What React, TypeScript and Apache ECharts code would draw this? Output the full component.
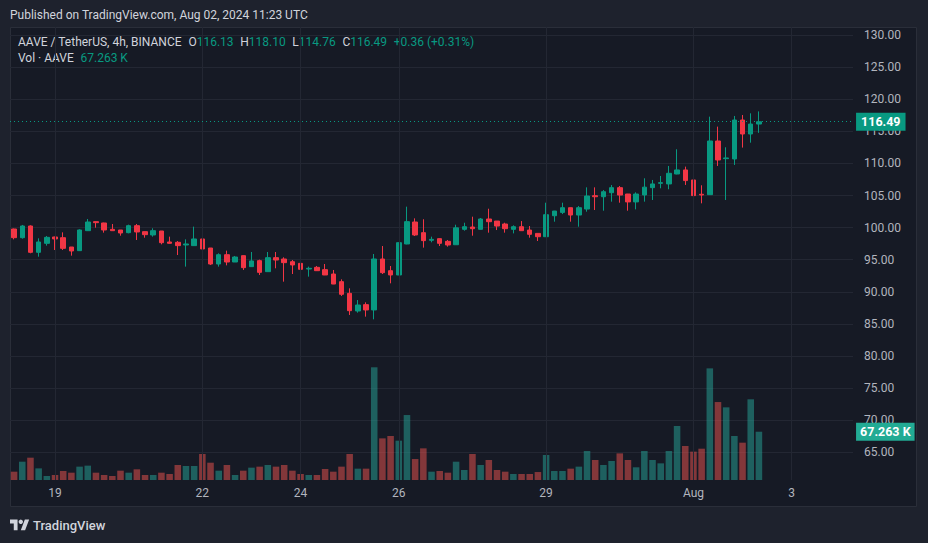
import React, { useEffect, useRef } from "react";
import * as echarts from "echarts";

// ---- data (4h candles, AAVE/USDT, from 2024-07-18 04:00 UTC) ----
const START_UTC = Date.UTC(2024, 6, 18, 4);
const SLOT_COUNT = 103; // visible 4h slots on the time axis

const OPEN = [
  99.78, 98.43, 100.25, 96.15, 97.55, 98.54, 98.43, 96.98, 96.41, 99.52,
  100.93, 100.72, 99.73, 99.63, 99.21, 100.3, 99.37, 98.85, 99.47, 97.76,
  97.71, 97.29, 97.19, 98.23, 96.82, 94.33, 95.78, 94.64, 95.63, 93.92,
  94.85, 93.14, 95.32, 95.11, 94.69, 94.43, 93.55, 93.81, 93.45, 92.77,
  91.58, 89.76, 87.01, 88.0, 87.17, 95.11, 93.29, 92.62, 97.45, 100.87,
  99.21, 98.02, 98.28, 97.86, 97.33, 99.73, 100.09, 99.73, 101.34, 101.02,
  100.56, 99.73, 100.14, 99.62, 99.1, 98.58, 101.85, 102.37, 103.1, 101.96,
  102.89, 104.97, 104.81, 105.44, 106.22, 105.23, 104.0, 105.08, 106.22, 106.9,
  106.8, 108.35, 108.98, 107.42, 105.19, 105.13, 113.49, 110.74, 110.69, 116.76,
  114.58, 116.13,
];
const CLOSE = [
  98.43, 100.25, 96.15, 97.76, 98.48, 98.23, 96.77, 96.36, 99.63, 100.87,
  100.77, 99.63, 99.52, 99.16, 100.3, 99.32, 98.9, 99.52, 97.65, 97.55,
  97.19, 97.45, 98.23, 96.67, 94.33, 95.78, 94.64, 95.42, 93.76, 94.8,
  93.03, 95.32, 94.95, 94.54, 94.18, 93.5, 93.66, 93.29, 92.62, 91.21,
  89.61, 87.06, 87.94, 87.17, 95.11, 92.98, 92.62, 97.65, 100.93, 98.85,
  97.97, 98.17, 97.55, 97.29, 99.96, 100.14, 99.83, 101.34, 100.92, 100.24,
  99.83, 100.14, 99.52, 98.95, 98.58, 102.01, 102.58, 103.1, 101.96, 103.1,
  104.92, 104.81, 105.59, 106.22, 105.07, 104.0, 105.23, 106.3, 106.8, 107.0,
  108.46, 108.98, 107.32, 104.98, 105.08, 113.49, 110.53, 110.85, 116.76, 114.58,
  116.13, 116.49,
];
const LOW = [
  98.17, 98.28, 96.0, 95.47, 97.19, 96.51, 96.51, 95.63, 96.36, 99.47,
  99.99, 99.21, 99.47, 98.74, 99.11, 98.07, 98.43, 98.59, 97.39, 97.5,
  95.73, 93.92, 97.14, 96.51, 94.18, 93.92, 94.12, 94.64, 93.4, 93.87,
  92.62, 93.09, 93.66, 91.58, 92.77, 92.98, 92.36, 93.24, 92.6, 91.19,
  89.35, 86.39, 86.75, 86.13, 85.71, 92.77, 91.32, 92.6, 97.4, 98.69,
  96.88, 97.71, 97.13, 97.03, 97.3, 99.52, 98.74, 99.7, 99.21, 99.62,
  99.21, 99.1, 99.5, 98.43, 97.91, 98.55, 100.92, 102.11, 100.92, 100.14,
  102.48, 102.74, 102.63, 104.04, 103.88, 102.63, 102.84, 104.04, 104.3, 106.12,
  105.97, 108.3, 106.64, 104.72, 103.78, 105.1, 109.6, 104.3, 109.76, 112.46,
  113.23, 114.76,
];
const HIGH = [
  99.85, 100.41, 100.35, 98.33, 98.69, 98.59, 99.26, 96.98, 99.73, 101.34,
  100.98, 100.77, 100.56, 99.63, 100.46, 100.56, 99.37, 99.89, 99.47, 98.59,
  97.91, 98.17, 100.15, 100.3, 96.82, 95.99, 96.41, 95.58, 95.68, 96.2,
  95.01, 96.2, 96.2, 95.37, 94.95, 94.8, 93.92, 94.02, 94.33, 93.4,
  91.94, 90.54, 88.72, 88.36, 95.89, 97.13, 94.02, 97.67, 103.26, 101.44,
  101.3, 98.59, 98.3, 98.07, 100.45, 100.76, 101.7, 101.49, 102.94, 101.02,
  100.76, 100.35, 101.02, 100.24, 99.12, 103.88, 102.6, 103.88, 103.12, 103.36,
  106.27, 106.27, 105.85, 106.63, 106.48, 105.25, 105.49, 107.68, 107.42, 108.04,
  109.6, 112.2, 109.5, 108.46, 106.59, 117.28, 115.73, 112.51, 117.39, 117.54,
  117.8, 118.1,
];
// volume in thousands of AAVE
const VOLUME = [
  11.6, 25.5, 31.1, 16.2, 5.6, 7.0, 12.5, 10.2, 18.6, 20.0,
  10.2, 7.0, 5.6, 13.0, 10.2, 14.9, 7.0, 7.0, 10.2, 8.4,
  20.9, 19.5, 19.5, 36.2, 24.1, 13.0, 20.9, 7.0, 13.0, 17.2,
  18.6, 20.9, 18.6, 20.9, 13.0, 8.4, 7.0, 7.0, 15.3, 11.6,
  18.6, 36.2, 15.8, 15.8, 157.0, 58.0, 61.3, 54.8, 90.5, 29.2,
  44.1, 11.6, 12.5, 10.2, 25.5, 13.9, 36.2, 20.9, 27.9, 13.9,
  11.6, 8.4, 8.4, 8.4, 11.1, 34.8, 12.5, 12.5, 15.8, 18.6,
  40.4, 27.9, 20.9, 26.5, 37.1, 27.9, 17.7, 40.4, 27.9, 23.2,
  40.4, 75.2, 47.4, 39.5, 43.6, 155.5, 108.6, 101.2, 61.3, 52.0,
  112.4, 67.263,
];
// x-axis tick labels (slot time -> label)
const TICK_LABELS: [string, string][] = [
  ["2024-07-19 00:00", "19"],
  ["2024-07-22 00:00", "22"],
  ["2024-07-24 00:00", "24"],
  ["2024-07-26 00:00", "26"],
  ["2024-07-29 00:00", "29"],
  ["2024-08-01 00:00", "Aug"],
  ["2024-08-03 00:00", "3"],
];
const PRICE_MIN = 65;
const PRICE_MAX = 130;
const PRICE_STEP = 5;
const VOLUME_AXIS_MAX = 631;

const UP = "#089981";
const DOWN = "#f23645";
const UP_VOL = "rgba(38,166,154,0.5)";
const DOWN_VOL = "rgba(239,83,80,0.5)";
const TEXT = "#d1d4dc";
const AXIS_TEXT = "#b2b5be";
const GRID = "#232733";
const FONT = 'Roboto, "Noto Sans", "Liberation Sans", sans-serif';

const pad = (n: number) => (n < 10 ? "0" + n : "" + n);
const CATEGORIES: string[] = [];
for (let i = 0; i < SLOT_COUNT; i++) {
  const d = new Date(START_UTC + i * 4 * 3600 * 1000);
  CATEGORIES.push(
    `${d.getUTCFullYear()}-${pad(d.getUTCMonth() + 1)}-${pad(d.getUTCDate())} ${pad(
      d.getUTCHours()
    )}:00`
  );
}

const TV_LOGO_PATH = "M14 22H7V11H0V4h14v18zM28 22h-8l7.5-18h8L28 22z";
let logoRegistered = false;

export default function App() {
  const ref = useRef<HTMLDivElement>(null);

  useEffect(() => {
    if (!ref.current) return;
    if (!logoRegistered) {
      echarts.graphic.registerShape("tvlogo", echarts.graphic.extendPath(TV_LOGO_PATH, {}) as any);
      logoRegistered = true;
    }
    const chart = echarts.init(ref.current, null, { renderer: "svg" });

    const tickMap = new Map(TICK_LABELS);
    const last = OPEN.length - 1;
    const o = OPEN[last], h = HIGH[last], l = LOW[last], c = CLOSE[last];
    const chg = c - CLOSE[last - 1];
    const pct = (chg / CLOSE[last - 1]) * 100;
    const sign = chg >= 0 ? "+" : "−";
    const chgText = `${sign}${Math.abs(chg).toFixed(2)} (${sign}${Math.abs(pct).toFixed(2)}%)`;
    const volText = `${VOLUME[last].toFixed(3)} K`;

    const candleData = OPEN.map((op, i) => [op, CLOSE[i], LOW[i], HIGH[i]]);
    const volData = VOLUME.map((v, i) => ({
      value: v,
      itemStyle: { color: CLOSE[i] >= OPEN[i] ? UP_VOL : DOWN_VOL },
    }));

    const richStyles = {
      a: { fill: TEXT, color: TEXT, fontSize: 12, fontFamily: FONT },
      v: { fill: UP, color: UP, fontSize: 12, fontFamily: FONT },
    };

    const option: any = {
      animation: false,
      backgroundColor: "#1e222d",
      textStyle: { fontFamily: FONT },
      graphic: [
        {
          type: "rect",
          z: -10,
          shape: { x: 10.5, y: 27.5, width: 906, height: 479 },
          style: { fill: "#161a25", stroke: "#2a2e39", lineWidth: 1 },
          silent: true,
        },
        {
          type: "text",
          x: 10,
          y: 14.5,
          silent: true,
          style: {
            text: "Published on TradingView.com, Aug 02, 2024 11:23 UTC",
            fill: TEXT,
            font: `12px ${FONT}`,
            textVerticalAlign: "middle",
          },
        },
        {
          type: "text",
          x: 18,
          y: 42,
          silent: true,
          style: {
            text:
              `{a|AAVE / TetherUS, 4h, BINANCE}  {a|O}{v|${o.toFixed(2)}}  {a|H}{v|${h.toFixed(2)}}` +
              `  {a|L}{v|${l.toFixed(2)}}  {a|C}{v|${c.toFixed(2)}}  {v|${chgText}}`,
            rich: richStyles,
            textVerticalAlign: "middle",
          },
        },
        {
          type: "text",
          x: 18,
          y: 58,
          silent: true,
          style: {
            text: `{a|Vol · AAVE}  {v|${volText}}`,
            rich: richStyles,
            textVerticalAlign: "middle",
          },
        },
        {
          type: "tvlogo",
          x: 10,
          y: 517,
          scaleX: 0.54,
          scaleY: 0.6,
          style: { fill: TEXT },
          silent: true,
        },
        {
          type: "circle",
          shape: { cx: 10 + 20 * 0.54, cy: 517 + 8 * 0.6, r: 2.2 },
          style: { fill: TEXT },
          silent: true,
        },
        {
          type: "text",
          x: 33,
          y: 525,
          style: { text: "TradingView", fill: TEXT, font: `500 13px ${FONT}`, textVerticalAlign: "middle" },
          silent: true,
        },
      ],
      grid: [
        { left: 10, width: 843.05, top: 35, height: 417.3 },
        { left: 10, width: 843.05, top: 27, height: 453 },
      ],
      xAxis: [
        {
          type: "category",
          gridIndex: 0,
          data: CATEGORIES,
          boundaryGap: true,
          show: false,
        },
        {
          type: "category",
          gridIndex: 1,
          data: CATEGORIES,
          boundaryGap: true,
          axisLine: { show: false },
          axisTick: { show: false },
          splitLine: { show: false },
          axisLabel: {
            color: AXIS_TEXT,
            fontSize: 12,
            fontFamily: FONT,
            margin: 7,
            interval: (_i: number, v: string) => tickMap.has(v),
            formatter: (v: string) => tickMap.get(v) || "",
            hideOverlap: false,
          },
        },
      ],
      yAxis: [
        {
          type: "value",
          gridIndex: 0,
          position: "right",
          min: PRICE_MIN,
          max: PRICE_MAX,
          interval: PRICE_STEP,
          axisLine: { show: false },
          axisTick: { show: false },
          splitLine: { show: true, lineStyle: { color: GRID, width: 1 } },
          axisLabel: {
            color: AXIS_TEXT,
            fontSize: 12,
            fontFamily: FONT,
            margin: 11,
            formatter: (v: number) => v.toFixed(2),
          },
        },
        {
          type: "value",
          gridIndex: 1,
          min: 0,
          max: VOLUME_AXIS_MAX,
          show: false,
          splitLine: { show: false },
        },
      ],
      series: [
        {
          type: "bar",
          name: "Volume",
          xAxisIndex: 1,
          yAxisIndex: 1,
          data: volData,
          barWidth: "80%",
          silent: true,
          z: 1,
          markLine: {
            silent: true,
            symbol: ["none", "none"],
            z: 10,
            data: [
              ...TICK_LABELS.map((t) => ({
                xAxis: t[0],
                lineStyle: { color: GRID, width: 1, type: "solid" },
                label: { show: false },
              })),
              {
                yAxis: VOLUME[last],
                lineStyle: { color: "rgba(0,0,0,0)", width: 1, type: "solid" },
                label: {
                  show: true,
                  position: "end",
                  distance: 3,
                  formatter: volText,
                  color: "#ffffff",
                  backgroundColor: "#22ab94",
                  fontSize: 12.5,
                  fontWeight: "bold",
                  fontFamily: FONT,
                  padding: [3, 4, 2, 4],
                },
              },
            ],
          },
        },
        {
          type: "candlestick",
          name: "AAVEUSDT",
          xAxisIndex: 0,
          yAxisIndex: 0,
          data: candleData,
          barWidth: 5,
          silent: true,
          z: 3,
          itemStyle: {
            color: UP,
            color0: DOWN,
            borderColor: UP,
            borderColor0: DOWN,
            borderWidth: 1,
          },
          markLine: {
            silent: true,
            symbol: ["none", "none"],
            z: 10,
            data: [
              {
                yAxis: c,
                lineStyle: { color: UP, width: 1, type: [1, 3] },
                label: {
                  show: true,
                  position: "end",
                  distance: 3,
                  formatter: c.toFixed(2),
                  color: "#ffffff",
                  backgroundColor: UP,
                  fontSize: 12.5,
                  fontWeight: "bold",
                  fontFamily: FONT,
                  padding: [3, 5, 2, 5],
                },
              },
            ],
          },
        },
      ],
    };

    chart.setOption(option);
    return () => chart.dispose();
  }, []);

  return (
    <div
      ref={ref}
      style={{ position: "fixed", left: 0, top: 0, width: 928, height: 543 }}
    />
  );
}
